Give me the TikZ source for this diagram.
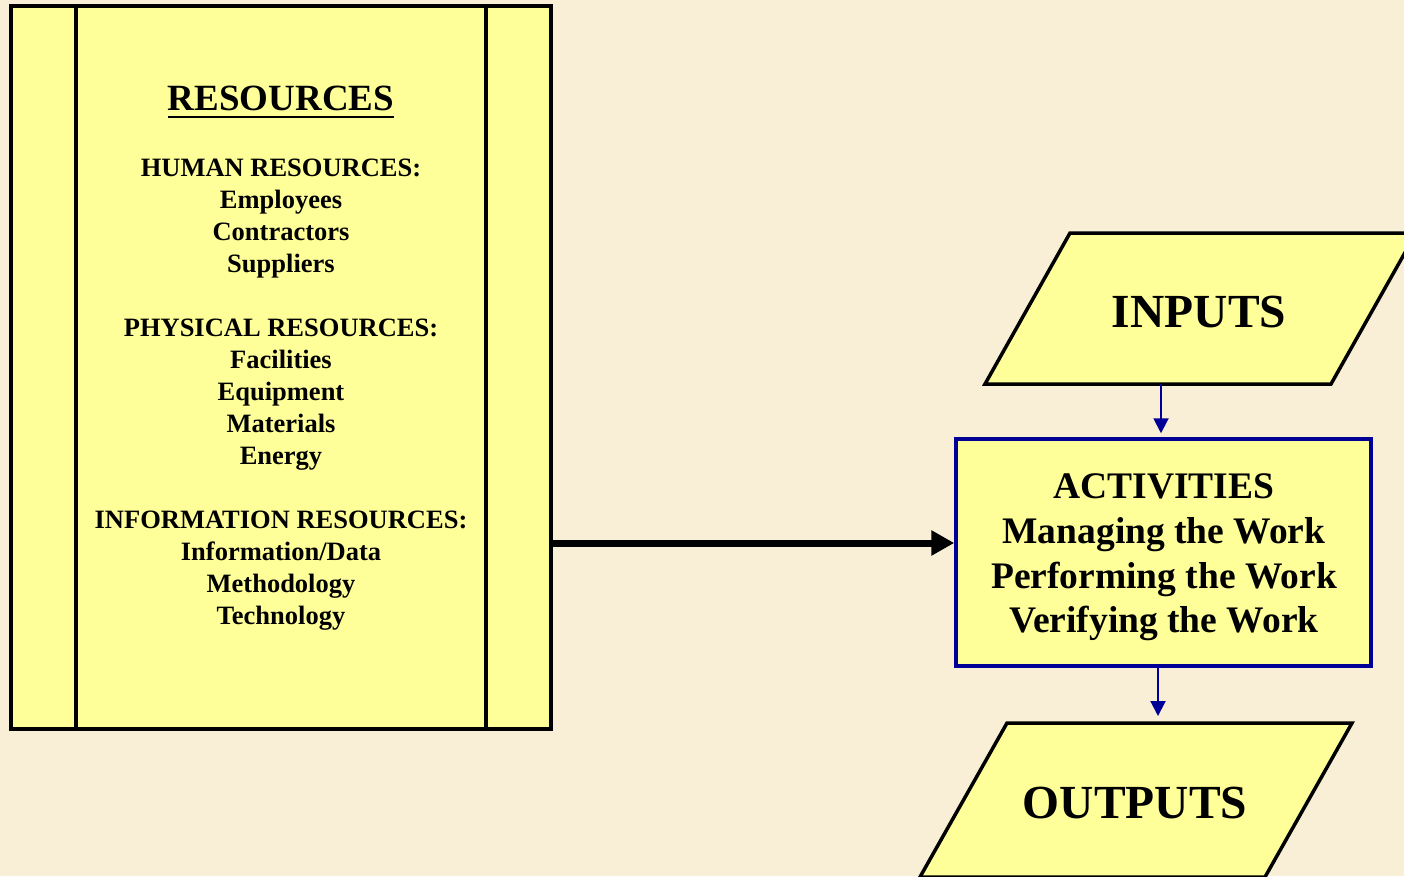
\documentclass[tikz,border=0pt]{standalone}
\usepackage{fontspec}
\setmainfont{Liberation Serif}
\usetikzlibrary{arrows.meta}
\definecolor{bgparch}{RGB}{249,239,214}
\definecolor{boxyellow}{RGB}{255,255,153}
\definecolor{navyline}{RGB}{0,0,150}
\tikzset{
  yellowshape/.style={draw=black, line width=3.5pt, fill=boxyellow, line join=miter},
  listline/.style={anchor=base, inner sep=0pt, font=\fontsize{26.5}{32}\selectfont\bfseries},
  titletext/.style={anchor=base, inner sep=0pt, font=\fontsize{37}{44}\selectfont\bfseries},
  actline/.style={anchor=base, inner sep=0pt, font=\fontsize{37.5}{44}\selectfont\bfseries},
  iotext/.style={anchor=base, inner sep=0pt, font=\fontsize{47.5}{56}\selectfont\bfseries},
  smallarrow/.style={draw=navyline, line width=2pt, -{Triangle[length=15pt,width=15pt]}},
  bigarrow/.style={draw=black, line width=7pt, -{Triangle[length=23pt,width=24pt]}}
}
\begin{document}
\begin{tikzpicture}[x=1pt,y=-1pt]
\useasboundingbox (0,0) rectangle (1404,876);
\fill[bgparch] (0,0) rectangle (1404,876);
\clip (0,0) rectangle (1404,876);
% resources box
\node[yellowshape, rectangle, minimum width=540pt, minimum height=723pt, inner sep=0pt] (res) at (281,367.5) {};
\coordinate (l1top) at (76,6);
\coordinate (l1bot) at (76,729);
\coordinate (l2top) at (486,6);
\coordinate (l2bot) at (486,729);
\draw[line width=3.5pt] (l1top) -- (l1bot);
\draw[line width=3.5pt] (l2top) -- (l2bot);
\node[titletext] (title) at (281,110) {RESOURCES};
\draw[line width=2pt] ([yshift=-7pt]title.base west) -- ([yshift=-7pt]title.base east);
\foreach \t/\y [count=\i] in {HUMAN RESOURCES:/176, Employees/208, Contractors/240, Suppliers/272,
  PHYSICAL RESOURCES:/336, Facilities/368, Equipment/400, Materials/432, Energy/464,
  INFORMATION RESOURCES:/528, Information{/}Data/560, Methodology/592, Technology/624}
  \node[listline] (r\i) at (281,\y) {\t};
% inputs
\draw[yellowshape] (1070,233) -- (1416,233) -- (1331,384) -- (985,384) -- cycle;
\node[iotext] (inputs) at (1199,327) {INPUTS};
\coordinate (inbot) at (1161,384);
% activities
\node[draw=navyline, line width=3.5pt, fill=boxyellow, rectangle, minimum width=415pt, minimum height=227pt, inner sep=0pt] (act) at (1163.5,552.5) {};
\node[actline] (a1) at (1164,498) {ACTIVITIES};
\node[actline] (a2) at (1164,543) {Managing the Work};
\node[actline] (a3) at (1164,588) {Performing the Work};
\node[actline] (a4) at (1164,632) {Verifying the Work};
% outputs
\draw[yellowshape] (1007,723) -- (1352,723) -- (1265,877) -- (920,877) -- cycle;
\node[iotext] (outputs) at (1135,818) {OUTPUTS};
\coordinate (outtop) at (1158,716);
% connectors
\draw[smallarrow, shorten >=4pt] (inbot) -- (inbot |- act.north);
\draw[smallarrow] (act.south -| outtop) -- (outtop);
\draw[bigarrow] (res.east |- 0,543) -- (act.west |- 0,543);
\end{tikzpicture}
\end{document}
